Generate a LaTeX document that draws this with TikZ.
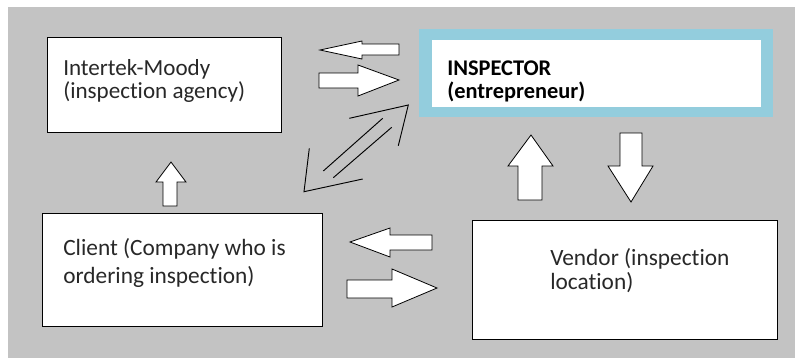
\documentclass[tikz,border=0pt]{standalone}
\usepackage{fontspec}
\setmainfont{Carlito}[Ligatures=NoCommon]
\definecolor{bggray}{RGB}{195,195,195}
\definecolor{inspblue}{RGB}{147,205,221}
\definecolor{txtcol}{RGB}{40,40,40}
\begin{document}
\begin{tikzpicture}[x=0.75pt,y=-0.75pt,
  box/.style={draw=black, line width=0.9pt, fill=white, rectangle, inner sep=0pt},
  label/.style={anchor=base west, align=left, inner sep=0pt, text=txtcol},
  blockarrow/.style={draw=black, line width=0.6pt, fill=white, line join=miter},
  thinline/.style={draw=black, line width=0.7pt}]
\useasboundingbox (0,0) rectangle (795,358);
\fill[white] (0,0) rectangle (795,358);
\fill[bggray] (8,7) rectangle (795,358);
% boxes
\node[box, minimum width=234*0.75pt, minimum height=95*0.75pt, anchor=north west] (intertek) at (47,37) {};
\node[rectangle, fill=inspblue, minimum width=354*0.75pt, minimum height=88*0.75pt, inner sep=0pt, anchor=north west] (inspouter) at (419,29) {};
\node[rectangle, fill=white, minimum width=329*0.75pt, minimum height=67*0.75pt, inner sep=0pt, anchor=north west] (inspector) at (432,40) {};
\node[box, minimum width=280*0.75pt, minimum height=113*0.75pt, anchor=north west] (client) at (42,213) {};
\node[box, minimum width=305*0.75pt, minimum height=119*0.75pt, anchor=north west] (vendor) at (472,220) {};
% texts (base anchor = last line baseline)
\node[label, font=\fontsize{17.3}{17.25}\selectfont] (t1) at (63,98) {Intertek-Moody\\(inspection agency)};
\node[label, font=\fontsize{16.8}{17.25}\selectfont\bfseries, text=black] (t2) at (447,98) {INSPECTOR\\(entrepreneur)};
\node[label, font=\fontsize{17.5}{21}\selectfont] (t3) at (63,283) {Client (Company who is\\ordering inspection)};
\node[label, font=\fontsize{17.5}{18}\selectfont] (t4) at (550,289) {Vendor (inspection\\location)};
% block arrows between Intertek and Inspector
\draw[blockarrow] (320,50) -- (362,41) -- (362,44) -- (399,44) -- (399,55) -- (362,55) -- (362,59) -- cycle;
\draw[blockarrow] (399,80) -- (358,65) -- (358,73) -- (319,73) -- (319,88) -- (358,88) -- (358,96) -- cycle;
% up arrow client -> intertek
\draw[blockarrow] (171,162) -- (186,182) -- (177,182) -- (177,206) -- (163,206) -- (163,182) -- (156,182) -- cycle;
% inspector <-> vendor
\draw[blockarrow] (531,135) -- (553,166) -- (542,166) -- (542,200) -- (518,200) -- (518,166) -- (508,166) -- cycle;
\draw[blockarrow] (631,202) -- (653,166) -- (642,166) -- (642,133) -- (620,133) -- (620,166) -- (608,166) -- cycle;
% client <-> vendor
\draw[blockarrow] (350,242) -- (390,228) -- (390,235) -- (432,235) -- (432,250) -- (390,250) -- (390,257) -- cycle;
\draw[blockarrow] (437,288) -- (392,269) -- (392,280) -- (347,280) -- (347,298) -- (392,298) -- (392,307) -- cycle;
% diagonal broken double arrow
\coordinate (dtipA) at (408.3,105);
\coordinate (dtipB) at (304,191.7);
\draw[thinline] (349.3,118.3) -- (dtipA) -- (398.3,145.7);
\draw[thinline] (309.3,148.3) -- (dtipB) -- (362.7,179);
\draw[thinline] (323.3,171) -- (382.7,118.3);
\draw[thinline] (333.3,177.7) -- (391.7,127.3);
\end{tikzpicture}
\end{document}
